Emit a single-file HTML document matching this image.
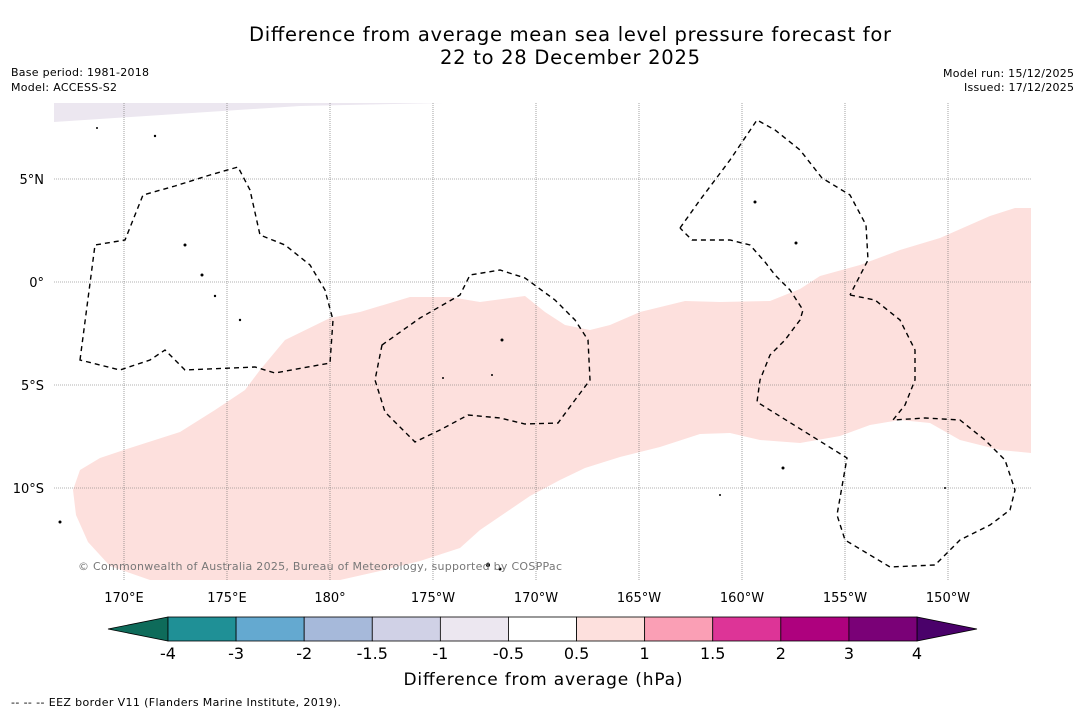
<!DOCTYPE html>
<html><head><meta charset="utf-8"><style>
body{margin:0;background:#fff;font-family:"DejaVu Sans","Liberation Sans",sans-serif;}
svg{display:block}
</style></head><body>
<svg id="chart" width="1085" height="713" viewBox="0 0 1085 713" xmlns="http://www.w3.org/2000/svg" font-family="DejaVu Sans, Liberation Sans, sans-serif">
<rect width="1085" height="713" fill="#fff"/>
<text x="570" y="41" font-size="19.5" text-anchor="middle" textLength="642">Difference from average mean sea level pressure forecast for</text>
<text x="570" y="64" font-size="19.5" text-anchor="middle" textLength="260">22 to 28 December 2025</text>
<text x="11" y="76" font-size="11" textLength="138">Base period: 1981-2018</text>
<text x="11" y="91" font-size="11" textLength="106">Model: ACCESS-S2</text>
<text x="1074" y="77" font-size="11" text-anchor="end" textLength="131">Model run: 15/12/2025</text>
<text x="1074" y="91" font-size="11" text-anchor="end" textLength="110">Issued: 17/12/2025</text>
<g>
<path d="M54,103 L443,103 L300,106 L54,122 Z" fill="#ece7f0"/>
<path fill="#fde0dd" d="M73,490 L80,470 L100,458 L130,448 L180,432 L215,410 L245,390 L260,370 L285,340 L330,318 L360,312 L410,297 L450,297 L480,302 L525,296 L545,312 L565,325 L590,330 L610,325 L640,312 L685,301 L720,302 L770,301 L800,289 L820,276 L860,265 L900,250 L940,238 L990,216 L1015,208 L1031,208 L1031,453 L1000,450 L960,440 L930,423 L900,420 L870,425 L840,436 L800,443 L760,440 L730,433 L700,434 L660,447 L620,457 L585,468 L560,480 L530,496 L505,513 L480,530 L460,548 L420,561 L380,571 L340,580 L150,580 L110,566 L88,542 L76,515 Z"/>
<g id="grid" stroke="#666" stroke-width="0.6" stroke-dasharray="1,1"></g>
<g fill="none" stroke="#000" stroke-width="1.4" stroke-dasharray="5,4">
<path d="M80,360 L95,245 L125,240 L143,195 L175,186 L210,175 L238,167 L250,190 L260,235 L285,245 L310,265 L325,290 L333,320 L330,363 L275,373 L255,367 L185,370 L165,350 L150,360 L120,370 Z"/>
<path d="M382,345 L375,380 L385,412 L415,442 L440,430 L468,415 L500,418 L525,424 L558,423 L575,400 L590,380 L588,340 L575,320 L555,300 L525,278 L500,270 L470,275 L460,295 L420,318 Z"/>
<path d="M680,228 L700,200 L730,160 L757,120 L775,130 L800,150 L822,178 L850,195 L866,225 L868,260 L850,295 M850,295 L875,300 L900,320 L915,350 L915,380 L905,405 L893,420 L925,418 L960,420 L985,440 L1005,460 L1015,490 L1010,510 L990,525 L960,540 L935,565 L890,567 L845,540 L837,515 L847,458 L757,402 L760,380 L770,355 L785,340 L800,320 L803,310 L790,290 L775,275 L765,262 L750,245 L730,240 L692,240 L680,228"/>
</g>
<g fill="#000">
<circle cx="185" cy="245" r="1.5"/><circle cx="202" cy="275" r="1.5"/><circle cx="215" cy="296" r="1.2"/><circle cx="240" cy="320" r="1.2"/><circle cx="502" cy="340" r="1.5"/><circle cx="443" cy="378" r="1"/><circle cx="492" cy="375" r="1"/><circle cx="755" cy="202" r="1.5"/><circle cx="796" cy="243" r="1.5"/><circle cx="783" cy="468" r="1.5"/><circle cx="720" cy="495" r="1"/><circle cx="155" cy="136" r="1.2"/><circle cx="97" cy="128" r="1"/><circle cx="60" cy="522" r="1.5"/><circle cx="488" cy="565" r="2"/><circle cx="500" cy="569" r="1.5"/><circle cx="945" cy="488" r="1"/>
</g>
<text x="78" y="570" font-size="11" fill="#777" textLength="484">© Commonwealth of Australia 2025, Bureau of Meteorology, supported by COSPPac</text>
</g>
<g id="colorbar"></g>
<text x="543" y="685" font-size="17" text-anchor="middle" textLength="279">Difference from average (hPa)</text>
<text x="11" y="706" font-size="11" textLength="330">--  --  -- EEZ border V11 (Flanders Marine Institute, 2019).</text>
</svg>
<script>
const lonTicks=[170,175,180,-175,-170,-165,-160,-155,-150];
const lonLabels=["170°E","175°E","180°","175°W","170°W","165°W","160°W","155°W","150°W"];
const latTicks=[5,0,-5,-10];
const latLabels=["5°N","0°","5°S","10°S"];
const cbBounds=["-4","-3","-2","-1.5","-1","-0.5","0.5","1","1.5","2","3","4"];
const cbColors=["#1f9096","#64a9d0","#a6b9da","#d0d1e6","#ece7f0","#ffffff","#fde0dd","#fa9fb5","#dd3497","#ae017e","#7a0177"];
const cbUnder="#0e6b5a", cbOver="#4a016a";
const NS="http://www.w3.org/2000/svg";
function lonX(l){let d=(l<0?l+360:l)-170;return 124+d*20.6;}
function latY(l){return 282-l*20.6;}
const grid=document.getElementById('grid'), svg=document.getElementById('chart');
function mk(t,a,p){const e=document.createElementNS(NS,t);for(const k in a)e.setAttribute(k,a[k]);p.appendChild(e);return e;}
lonTicks.forEach((l,i)=>{const x=lonX(l);
const ln=mk('line',{x1:x,y1:103,x2:x,y2:580},grid);


const t=mk('text',{x:x,y:602,'font-size':13,'text-anchor':'middle'},svg);t.textContent=lonLabels[i];

});
latTicks.forEach((l,i)=>{const y=latY(l);
const ln=mk('line',{x1:54,y1:y,x2:1031,y2:y},grid);


const t=mk('text',{x:44,y:y+5,'font-size':13,'text-anchor':'end'},svg);t.textContent=latLabels[i];

});
const cb=document.getElementById('colorbar');
const x0=168,x1=917,w=(x1-x0)/cbColors.length,y0=617,h=24;
const u=mk('polygon',{points:`108,${y0+h/2} ${x0},${y0} ${x0},${y0+h}`,fill:cbUnder,stroke:'#000','stroke-width':0.8},cb);


const o=mk('polygon',{points:`977,${y0+h/2} ${x1},${y0} ${x1},${y0+h}`,fill:cbOver,stroke:'#000','stroke-width':0.8},cb);


cbColors.forEach((c,i)=>{const r=mk('rect',{x:x0+i*w,y:y0,width:w,height:h,fill:c,stroke:'#000','stroke-width':0.8},cb);

});
cbBounds.forEach((b,i)=>{const t=mk('text',{x:x0+i*w,y:659,'font-size':16,'text-anchor':'middle'},cb);t.textContent=b;

});
</script>
</body></html>
